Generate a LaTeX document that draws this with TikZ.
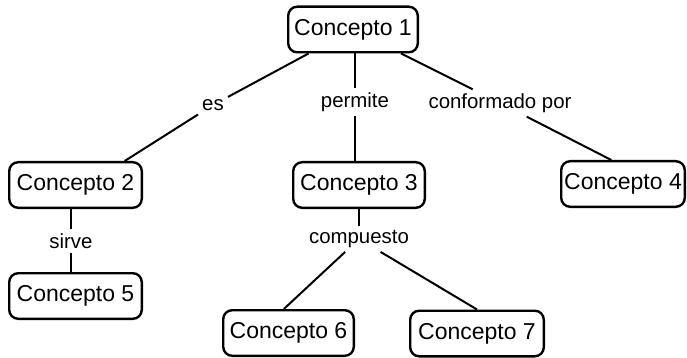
\documentclass[tikz,border=0pt]{standalone}
\usepackage{fontspec}
\setmainfont{Liberation Sans}
\usetikzlibrary{calc}

\tikzset{
  concept/.style={draw=black, line width=2.4pt, rounded corners=9pt, fill=white,
    inner sep=0pt, minimum width=#1, minimum height=45.6pt,
    font=\fontsize{23}{27}\selectfont},
  concept/.default=132pt,
  linklabel/.style={inner sep=4pt, font=\fontsize{20.4}{24}\selectfont},
  link/.style={line width=2pt, black}
}

\begin{document}
\begin{tikzpicture}[x=1pt, y=-1pt]
  \useasboundingbox (0,0) rectangle (687,358);

  % concept boxes
  \node[concept=129.6pt] (c1) at (353,29.5) {Concepto 1};
  \node[concept=132.6pt] (c2) at (75.5,185) {Concepto 2};
  \node[concept=131.6pt] (c3) at (359,185) {Concepto 3};
  \node[concept=123.6pt] (c4) at (623,184) {Concepto 4};
  \node[concept=132.6pt] (c5) at (75.5,296) {Concepto 5};
  \node[concept=130.6pt] (c6) at (288.5,333) {Concepto 6};
  \node[concept=133.6pt] (c7) at (477,333.5) {Concepto 7};

  % linking phrases
  \node[linklabel] (es)   at (213,105) {es};
  \node[linklabel] (perm) at (355,102) {permite};
  \node[linklabel] (conf) at (500,103) {conformado por};
  \node[linklabel] (sirv) at (71,241)  {sirve};
  \node[linklabel] (comp) at (359,239) {compuesto};

  % connectors
  \draw[link] (c1) -- (es);
  \draw[link] (es) -- (c2.26);
  \draw[link] (c1.south -| perm) -- (perm);
  \draw[link] (perm) -- (perm |- c3.north);
  \draw[link] (c1) -- (conf);
  \draw[link] (conf) -- (c4.116);
  \draw[link] (c2.south -| sirv) -- (sirv);
  \draw[link] (sirv) -- (sirv |- c5.north);
  \draw[link] (c3.south -| comp) -- (comp);
  \draw[link] (comp) -- (c6.101);
  \draw[link] (comp) -- (c7.north);
\end{tikzpicture}
\end{document}
